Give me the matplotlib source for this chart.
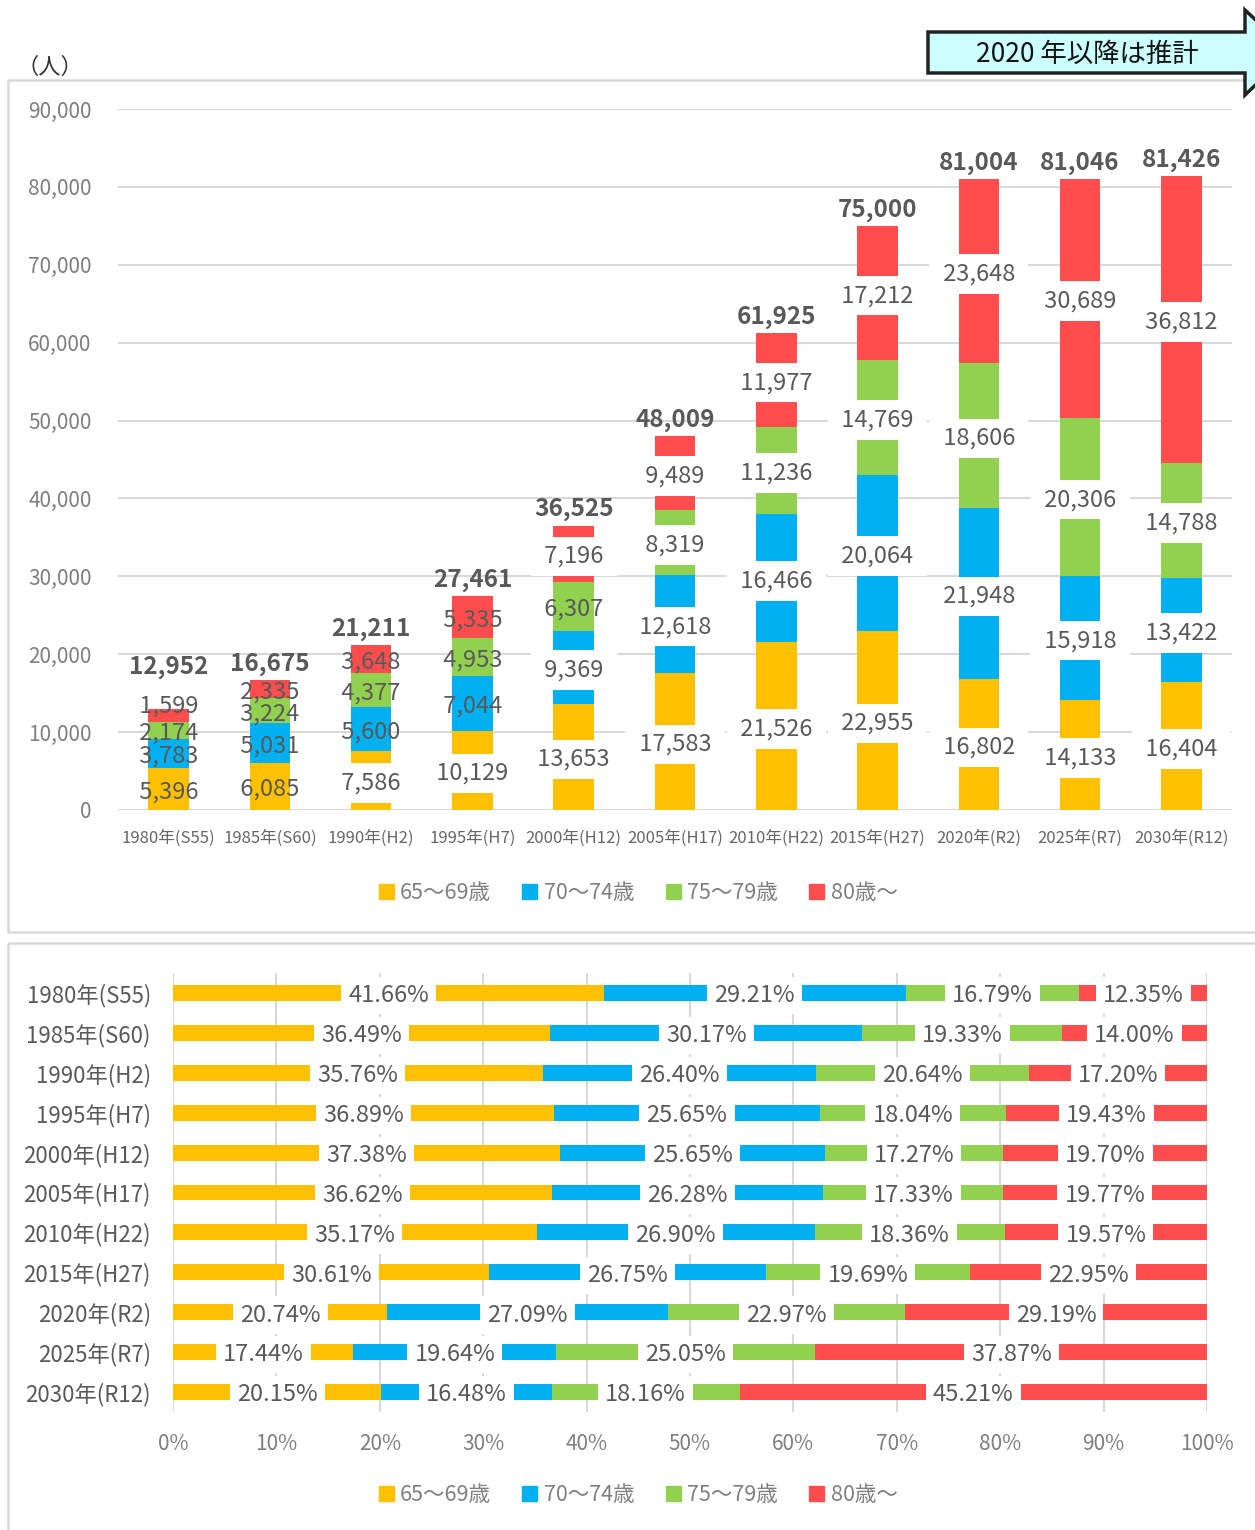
import numpy as np
import matplotlib.pyplot as plt
from matplotlib.patches import Patch, Polygon, Rectangle

plt.rcParams['font.family'] = ['Noto Sans CJK JP', 'DejaVu Sans']

# data
years = ['1980年(S55)', '1985年(S60)', '1990年(H2)', '1995年(H7)', '2000年(H12)',
         '2005年(H17)', '2010年(H22)', '2015年(H27)', '2020年(R2)', '2025年(R7)', '2030年(R12)']
age_groups = ['65～69歳', '70～74歳', '75～79歳', '80歳～']
age_65_69 = [5396, 6085, 7586, 10129, 13653, 17583, 21526, 22955, 16802, 14133, 16404]
age_70_74 = [3783, 5031, 5600, 7044, 9369, 12618, 16466, 20064, 21948, 15918, 13422]
age_75_79 = [2174, 3224, 4377, 4953, 6307, 8319, 11236, 14769, 18606, 20306, 14788]
age_80_up = [1599, 2335, 3648, 5335, 7196, 9489, 11977, 17212, 23648, 30689, 36812]
# totals as printed above the bars
totals = [12952, 16675, 21211, 27461, 36525, 48009, 61925, 75000, 81004, 81046, 81426]

colors = ['#FFC000', '#00B0F0', '#92D050', '#FF4D4D']
txt = '#595959'
grid = '#d9d9d9'

W, H = 1255, 1530
fig = plt.figure(figsize=(W / 100, H / 100), dpi=100)

# background panels, arrow note
ov = fig.add_axes([0, 0, 1, 1], zorder=-1)
ov.set_xlim(0, W)
ov.set_ylim(H, 0)
ov.axis('off')
ov.add_patch(Rectangle((8, 80), 1300, 852, fill=False, ec=grid, lw=1.8))
ov.add_patch(Rectangle((8, 943), 1300, 700, fill=False, ec=grid, lw=1.8))
ov.text(50, 67, '（人）', fontsize=16, color='#333333', ha='center', va='center')
ov.add_patch(Polygon([(928, 32), (1245, 32), (1245, 10), (1290, 52), (1245, 95),
                      (1245, 73), (928, 73)], closed=True, fc='#CCFFFF', ec='#222222', lw=2.5))
ov.text(1087, 54, '2020 年以降は推計', fontsize=19, color='#111111', ha='center', va='center')

series = np.array([age_65_69, age_70_74, age_75_79, age_80_up])
x = np.arange(len(years))

# top: stacked counts
ax1 = fig.add_axes([118 / W, 1 - 810 / H, (1232 - 118) / W, (810 - 109) / H])
ax1.set_facecolor('none')
bottom = np.zeros(len(years))
label_top = np.zeros(len(years))
for k, (vals, c) in enumerate(zip(series, colors)):
    ax1.bar(x, vals, 0.4, bottom=bottom, color=c, zorder=2)
    for xi, b, v in zip(x, bottom, vals):
        y = b + v / 2
        if k == len(series) - 1 and v < 2000:
            y = b + v + 800  # thin top segment: label sits just above it
        label_top[xi] = y
        box = dict(boxstyle='square,pad=0.35', fc='white', ec='none') if v > 7100 else None
        ax1.annotate(f' {v:,} ', (xi, y), xytext=(0, -2), textcoords='offset points',
                     ha='center', va='center', fontsize=17, color=txt, bbox=box, zorder=4)
    bottom += vals
for xi, top, t in zip(x, bottom, totals):
    y = max(top, label_top[xi] + 2500) if label_top[xi] > top else top
    ax1.annotate(f'{t:,}', (xi, y), xytext=(0, 3), textcoords='offset points',
                 ha='center', va='bottom', fontsize=17.5, fontweight='bold', color=txt, zorder=5)

ax1.set_xlim(-0.5, len(years) - 0.5)
ax1.set_ylim(0, 90000)
ax1.set_yticks(range(0, 90001, 10000))
ax1.set_yticklabels([f'{v:,}' for v in range(0, 90001, 10000)])
ax1.set_xticks(x)
ax1.set_xticklabels(years)
ax1.tick_params(axis='y', length=0, pad=19, labelsize=15, labelcolor='#7f7f7f')
ax1.tick_params(axis='x', length=0, pad=14, labelsize=12, labelcolor='#666666')
ax1.grid(axis='y', color=grid, lw=1.5, zorder=0)
for s in ax1.spines.values():
    s.set_visible(False)

handles = [Patch(color=c) for c in colors]
leg_kw = dict(loc='center', ncol=4, frameon=False, fontsize=15.5, handlelength=0.7,
              handleheight=0.7, handletextpad=0.3, columnspacing=1.45, labelcolor='#7f7f7f')
fig.legend(handles, age_groups, bbox_to_anchor=(638 / W, 1 - 893 / H), **leg_kw)

# bottom: share of each group
ax2 = fig.add_axes([173 / W, 1 - 1412 / H, (1207 - 173) / W, (1412 - 973) / H])
ax2.set_facecolor('none')
pct = series / series.sum(axis=0) * 100
left = np.zeros(len(years))
for vals, c in zip(pct, colors):
    ax2.barh(x, vals, 0.4, left=left, color=c, zorder=2)
    for yi, l, p in zip(x, left, vals):
        ax2.annotate(f'{p:.2f}%', (l + p / 2, yi), xytext=(0, -2), textcoords='offset points',
                     ha='center', va='center', fontsize=17, color=txt,
                     bbox=dict(boxstyle='square,pad=0.3', fc='white', ec='none'), zorder=4)
    left += vals

ax2.set_xlim(0, 100)
ax2.set_ylim(len(years) - 0.5, -0.5)
ax2.set_xticks(range(0, 101, 10))
ax2.set_xticklabels([f'{v}%' for v in range(0, 101, 10)])
ax2.set_yticks(x)
ax2.set_yticklabels(years)
ax2.tick_params(axis='y', length=0, pad=16, labelsize=16, labelcolor=txt)
ax2.tick_params(axis='x', length=0, pad=15, labelsize=15, labelcolor='#7f7f7f')
ax2.grid(axis='x', color=grid, lw=1.5, zorder=0)
for s in ax2.spines.values():
    s.set_visible(False)

fig.legend(handles, age_groups, bbox_to_anchor=(638 / W, 1 - 1495 / H), **leg_kw)

fig.savefig('out.png', dpi=100)
